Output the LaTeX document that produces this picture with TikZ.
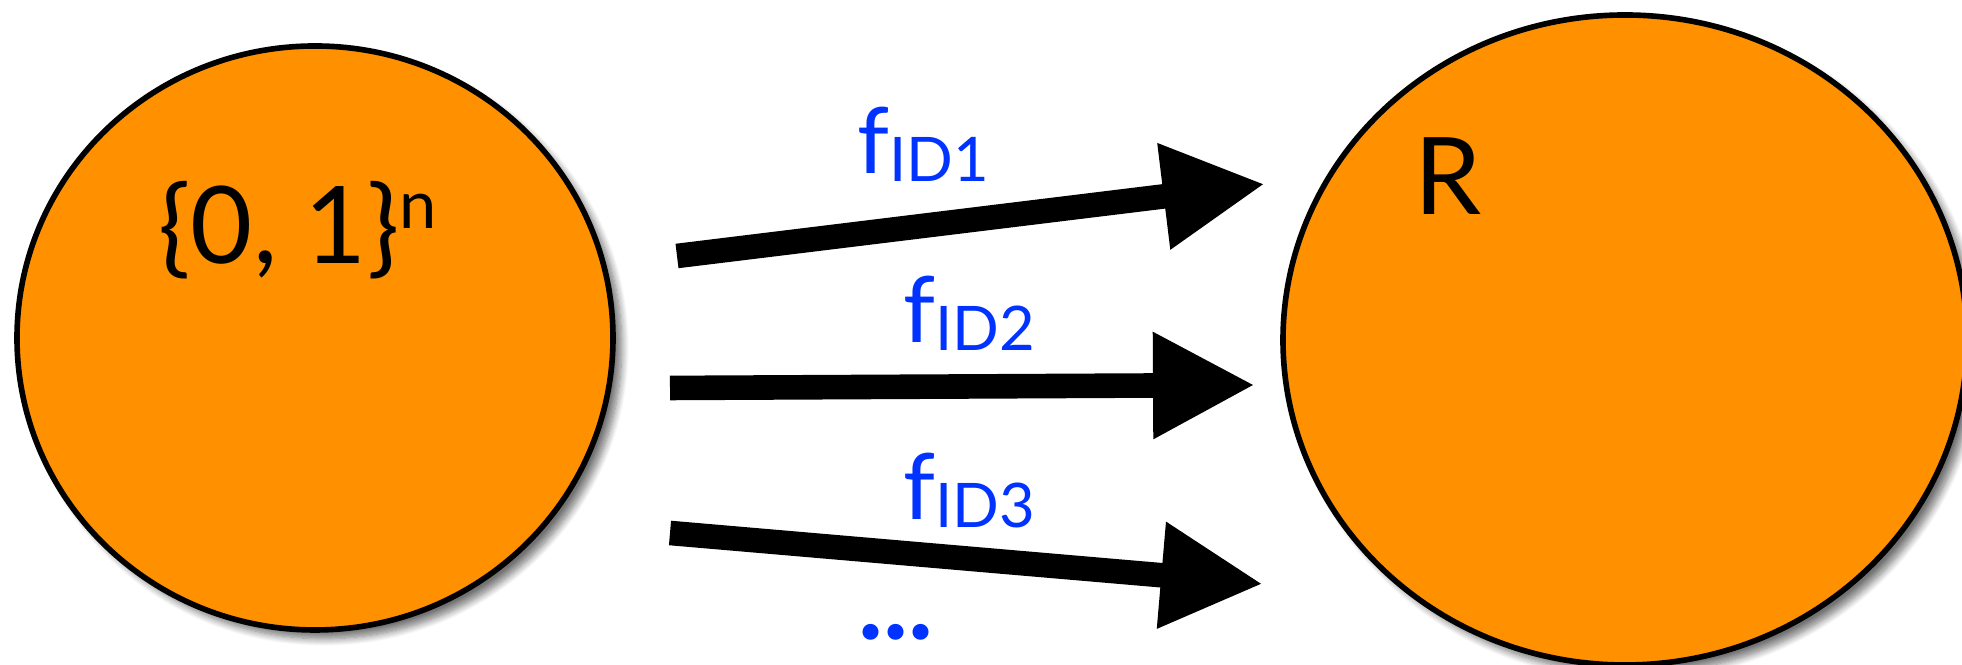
\documentclass[tikz,border=0pt]{standalone}
\usepackage{fontspec}
\setmainfont{Lato}
\usetikzlibrary{shapes.geometric,arrows.meta,shadows.blur}
\definecolor{setorange}{RGB}{255,144,0}
\definecolor{labelblue}{RGB}{0,51,255}
\newcommand{\bigtext}{\fontsize{30.5}{33}\selectfont}
\newcommand{\ftext}{\fontsize{26}{28}\selectfont}
\newcommand{\subtext}{\fontsize{17.5}{19}\selectfont}

\begin{document}
\begin{tikzpicture}[
  set/.style={ellipse,draw,line width=1.6pt,fill=setorange,
    blur shadow={shadow xshift=2.5pt,shadow yshift=-2.5pt,shadow blur steps=10,shadow opacity=55}},
  map/.style={line width=7pt,-{Triangle[length=1.02cm,width=1cm]}},
  lbl/.style={text=labelblue,inner sep=0pt,anchor=base west}]
  \useasboundingbox (0,0) rectangle (19.62,6.65);
  % the two sets
  \draw(3.15,3.27) node[set,minimum width=5.96cm,minimum height=5.84cm] (dom) {};
  \draw(16.25,3.25) node[set,minimum width=6.84cm,minimum height=6.5cm] (rng) {};
  \node[anchor=base west,inner sep=0pt,font=\bigtext] (domlbl) at (1.58,4.01)
    {\{0, 1\}\raisebox{0.35cm}{\fontsize{19}{20}\selectfont n}};
  \node[anchor=base west,inner sep=0pt,font=\bigtext] (rnglbl) at (14.14,4.50) {R};
  % ends of the maps
  \coordinate (s1) at (6.77,4.09);
  \coordinate (t1) at (12.65,4.81);
  \coordinate (s2) at (6.70,2.77);
  \coordinate (t2) at (12.55,2.80);
  \coordinate (s3) at (6.70,1.32);
  \coordinate (t3) at (12.63,0.81);
  \draw[map] (s1) -- (t1);
  \draw[map] (s2) -- (t2);
  \draw[map] (s3) -- (t3);
  \node[lbl] (f1) at (8.57,4.91) {\ftext f\raisebox{-0.08cm}{\subtext ID1}};
  \node[lbl] (f2) at (9.03,3.22) {\ftext f\raisebox{-0.08cm}{\subtext ID2}};
  \node[lbl] (f3) at (9.03,1.45) {\ftext f\raisebox{-0.08cm}{\subtext ID3}};
  \node[lbl,font=\fontsize{30}{32}\selectfont\bfseries] (more) at (8.58,0.25) {...};
\end{tikzpicture}
\end{document}
